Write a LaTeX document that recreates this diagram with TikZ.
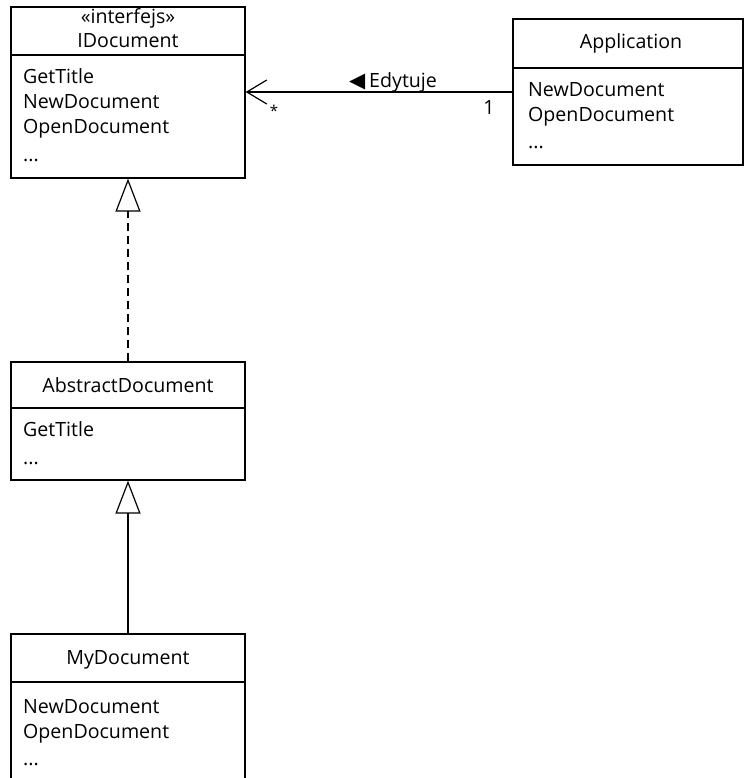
\documentclass[tikz,border=0pt]{standalone}
\usepackage{fontspec}
\setmainfont{Open Sans}
\newfontfamily\symfont{DejaVu Sans}
\usetikzlibrary{arrows.meta}
\begin{document}
\begin{tikzpicture}[x=1pt,y=-1pt,
  font=\fontsize{19.6}{24}\selectfont,
  box/.style={draw, line width=1.2pt, inner sep=0pt, minimum width=234pt},
  member/.style={anchor=base west, inner sep=0pt},
  title/.style={anchor=base, inner sep=0pt},
  conn/.style={line width=1.2pt},
  gen/.style={conn, -{Triangle[open, length=33pt, width=25pt, fill=white]}}]
\clip (0,0) rectangle (744,778);
\fill[white] (0,0) rectangle (744,778);

% IDocument interface
\node[box, minimum height=171pt] (idoc) at (128,92.5) {};
\draw[conn] (11,55) -- (245,55);
\node[title] (idocst) at (128,24) {«interfejs»};
\node[title] (idocname) at (128,48) {IDocument};
\node[member] (idocm1) at (23,84) {GetTitle};
\node[member] (idocm2) at (23,109) {NewDocument};
\node[member] (idocm3) at (23,134) {OpenDocument};
\node[member] (idocm4) at (23,161) {...};

% Application
\node[box, minimum width=230pt, minimum height=146pt] (app) at (628,92) {};
\draw[conn] (513,68) -- (743,68);
\node[title] (appname) at (631,49) {Application};
\node[member] (appm1) at (528,97) {NewDocument};
\node[member] (appm2) at (528,122) {OpenDocument};
\node[member] (appm3) at (528,149) {...};

% AbstractDocument
\node[box, minimum height=118pt] (abs) at (128,421) {};
\draw[conn] (11,408) -- (245,408);
\node[title] (absname) at (128,392) {AbstractDocument};
\node[member] (absm1) at (23,436) {GetTitle};
\node[member] (absm2) at (23,464) {...};

% MyDocument
\node[box, minimum height=170pt] (mydoc) at (128,719) {};
\draw[conn] (11,682) -- (245,682);
\node[title] (myname) at (128,664) {MyDocument};
\node[member] (mym1) at (23,713) {NewDocument};
\node[member] (mym2) at (23,738) {OpenDocument};
\node[member] (mym3) at (23,765) {...};

% Association Application -> IDocument
\draw[conn, -{Straight Barb[length=20pt, width=24pt, line width=1.2pt]}]
  (app.west) -- (app.west -| idoc.east);
\node[anchor=base, inner sep=0pt] (assoc) at (393,88) {{\symfont\fontsize{21}{21}\selectfont ◀}\kern4pt Edytuje};
\node[inner sep=0pt] (multstar) at (274,111) {\fontsize{15}{15}\selectfont *};
\node[anchor=base, inner sep=0pt] (multone) at (489,115) {1};

% Realization and inheritance
\draw[gen, dash pattern=on 8pt off 5pt] (abs.north) -- (idoc.south);
\draw[gen] (mydoc.north) -- (abs.south);
\end{tikzpicture}
\end{document}
